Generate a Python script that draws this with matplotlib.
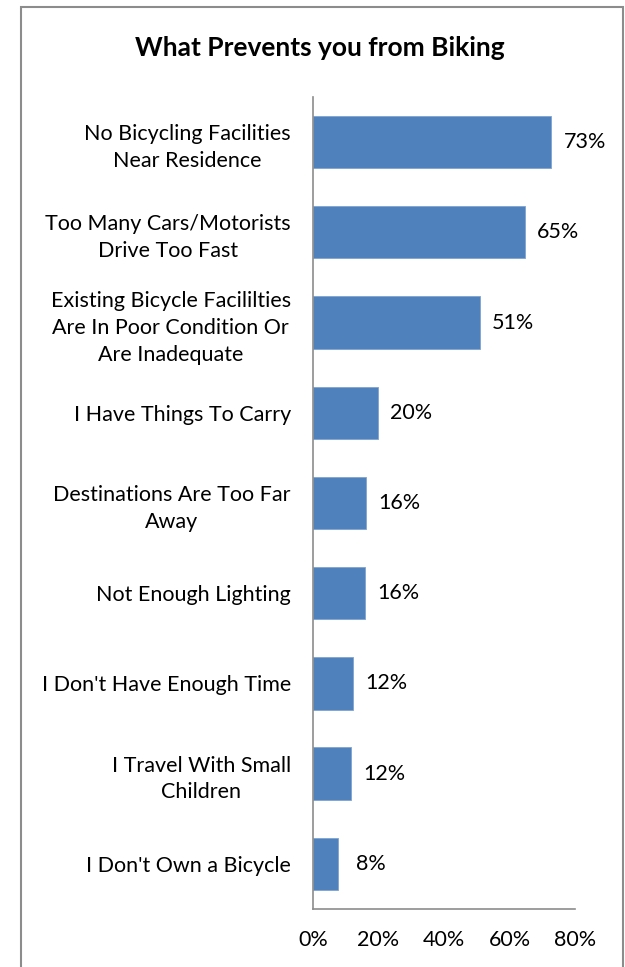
import matplotlib.pyplot as plt
from matplotlib.patches import Rectangle

plt.rcParams['font.family'] = ['Lato', 'DejaVu Sans']

reasons = [
    "No Bicycling Facilities\nNear Residence",
    "Too Many Cars/Motorists\nDrive Too Fast",
    "Existing Bicycle Facililties\nAre In Poor Condition Or\nAre Inadequate",
    "I Have Things To Carry",
    "Destinations Are Too Far\nAway",
    "Not Enough Lighting",
    "I Don't Have Enough Time",
    "I Travel With Small\nChildren",
    "I Don't Own a Bicycle",
]
shares = [72.8, 64.6, 50.9, 19.9, 16.3, 16.0, 12.2, 11.6, 7.6]
x_ticks = [0, 20, 40, 60, 80]

fig = plt.figure(figsize=(6.25, 9.67), dpi=100)
ax = fig.add_axes([0.5008, 0.06, 0.4192, 0.8397])

pos = list(range(len(reasons)))
ax.barh(pos, shares, height=0.58, color='#4F81BD', edgecolor='#7FA3D0', linewidth=0.6)
ax.set_ylim(len(reasons) - 0.5, -0.5)
ax.set_xlim(0, 80)

ax.set_yticks(pos)
ax.set_yticklabels(reasons, fontsize=15.5, ha='right', multialignment='center',
                   linespacing=1.42)
ax.set_xticks(x_ticks)
ax.set_xticklabels([f"{t}%" for t in x_ticks], fontsize=15.5)
ax.tick_params(axis='both', length=0)
ax.tick_params(axis='y', pad=16)
ax.tick_params(axis='x', pad=15)

for s in ['top', 'right']:
    ax.spines[s].set_visible(False)
for s in ['left', 'bottom']:
    ax.spines[s].set_color('#8c8c8c')
    ax.spines[s].set_linewidth(1.2)

# percentage labels just past the end of each bar
for p, v in zip(pos, shares):
    ax.annotate(f"{v:.0f}%", xy=(v, p), xytext=(24, 0), textcoords='offset points',
                ha='center', va='center', fontsize=15.5)

fig.text(0.512, 0.95, "What Prevents you from Biking", ha='center', va='center',
         fontsize=19, fontweight='bold')

# chart frame
fig.patches.append(Rectangle((0.0336, -0.01), 0.9632, 1.0028, transform=fig.transFigure,
                             fill=False, edgecolor='#8c8c8c', linewidth=1.5))

fig.savefig('out.png', dpi=100)
